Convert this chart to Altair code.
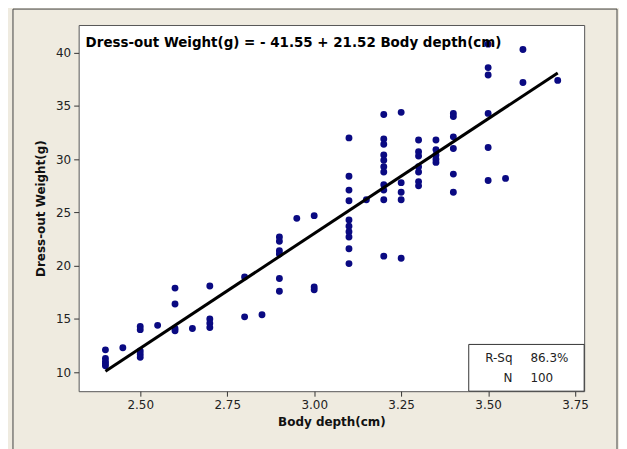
import altair as alt
import pandas as pd

# ---- data ----
depth = ([2.4] * 5 + [2.45] + [2.5] * 5 + [2.55] + [2.6] * 4 + [2.65] + [2.7] * 4 +
         [2.8] * 2 + [2.85] + [2.9] * 6 + [2.95] + [3.0] * 3 + [3.1] * 10 + [3.15] +
         [3.2] * 11 + [3.25] * 5 + [3.3] * 7 + [3.35] * 5 + [3.4] * 6 + [3.5] * 6 +
         [3.55] + [3.6] * 2 + [3.7])
weight = [12.1, 11.3, 11.0, 10.8, 10.6,
          12.3,
          14.3, 14.0, 12.0, 11.7, 11.4,
          14.4,
          17.9, 16.4, 14.1, 13.9,
          14.1,
          18.1, 15.0, 14.6, 14.2,
          18.95, 15.2,
          15.4,
          22.7, 22.3, 21.4, 21.1, 18.8, 17.6,
          24.45,
          24.7, 18.0, 17.75,
          32.0, 28.4, 27.1, 26.1, 24.3, 23.7, 23.2, 22.7, 21.6, 20.2,
          26.2,
          34.2, 31.9, 31.4, 30.4, 29.9, 29.3, 28.8, 27.6, 27.1, 26.2, 20.9,
          34.4, 27.8, 26.9, 26.2, 20.7,
          31.8, 30.7, 30.3, 29.3, 28.8, 27.9, 27.5,
          31.8, 30.9, 30.4, 30.0, 29.7,
          34.3, 34.0, 32.1, 31.0, 28.6, 26.9,
          40.8, 38.6, 37.9, 34.3, 31.1, 28.0,
          28.2,
          40.3, 37.2,
          37.4]

fit_x = [2.4, 3.7]
fit_y = [10.1, 38.1]

x_ticks = [2.5, 2.75, 3.0, 3.25, 3.5, 3.75]
y_ticks = [10, 15, 20, 25, 30, 35, 40]
x_domain = [2.323, 3.776]
y_domain = [8.22, 42.6]

equation = "Dress-out Weight(g) =  - 41.55 + 21.52 Body depth(cm)"
stat_names = ["R-Sq", "N"]
stat_values = ["86.3%", "100"]

FONT = "DejaVu Sans"

pts = pd.DataFrame({"depth": depth, "weight": weight})
fit = pd.DataFrame({"depth": fit_x, "weight": fit_y})

xs = alt.Scale(domain=x_domain, nice=False, zero=False)
ys = alt.Scale(domain=y_domain, nice=False, zero=False)

x_axis = alt.Axis(values=x_ticks, format=".2f", title="Body depth(cm)", grid=False)
y_axis = alt.Axis(values=y_ticks, title="Dress-out Weight(g)", grid=False)

frame = alt.Chart(pd.DataFrame({"a": [1]})).mark_rect(
    fillOpacity=0, stroke="#444444", strokeWidth=1
).encode(x=alt.value(-66), x2=alt.value(541), y=alt.value(-16), y2=alt.value(440))

points = alt.Chart(pts).mark_circle(size=48, color="#0a0a82", opacity=1).encode(
    x=alt.X("depth:Q", scale=xs, axis=x_axis),
    y=alt.Y("weight:Q", scale=ys, axis=y_axis),
)

line = alt.Chart(fit).mark_line(color="black", strokeWidth=3).encode(
    x=alt.X("depth:Q", scale=xs),
    y=alt.Y("weight:Q", scale=ys),
)

eq = alt.Chart(pd.DataFrame({"t": [equation]})).mark_text(
    align="left", baseline="middle", font=FONT, fontWeight="bold", fontSize=13.5,
    color="black"
).encode(x=alt.value(7), y=alt.value(18), text="t:N")

box = alt.Chart(pd.DataFrame({"a": [1]})).mark_rect(
    fill="white", stroke="#333333", strokeWidth=1
).encode(x=alt.value(392), x2=alt.value(508), y=alt.value(321), y2=alt.value(368))

stat_layers = []
for i, (n, v) in enumerate(zip(stat_names, stat_values)):
    ypix = 335 + 20 * i
    stat_layers.append(
        alt.Chart(pd.DataFrame({"t": [n]})).mark_text(
            align="right", baseline="middle", font=FONT, fontSize=12, color="#222222"
        ).encode(x=alt.value(436), y=alt.value(ypix), text="t:N")
    )
    stat_layers.append(
        alt.Chart(pd.DataFrame({"t": [v]})).mark_text(
            align="left", baseline="middle", font=FONT, fontSize=12, color="#222222"
        ).encode(x=alt.value(454), y=alt.value(ypix), text="t:N")
    )

chart = alt.layer(frame, points, line, eq, box, *stat_layers).properties(
    width=508,
    height=368,
    padding={"left": 71, "top": 16, "right": 35, "bottom": 57},
    autosize=alt.AutoSizeParams(type="none"),
    background="#efebe0",
).configure_view(
    fill="white", stroke="#555555", strokeWidth=1
).configure_axis(
    labelFont=FONT, labelFontSize=12, labelColor="#222222",
    titleFont=FONT, titleFontSize=12, titleFontWeight="bold", titleColor="#111111",
    domain=False, tickColor="#333333", tickSize=5, labelPadding=3,
).configure_axisX(titlePadding=6).configure_axisY(titlePadding=8)

chart.save("out.html", embed_options={"renderer": "svg", "actions": False})
